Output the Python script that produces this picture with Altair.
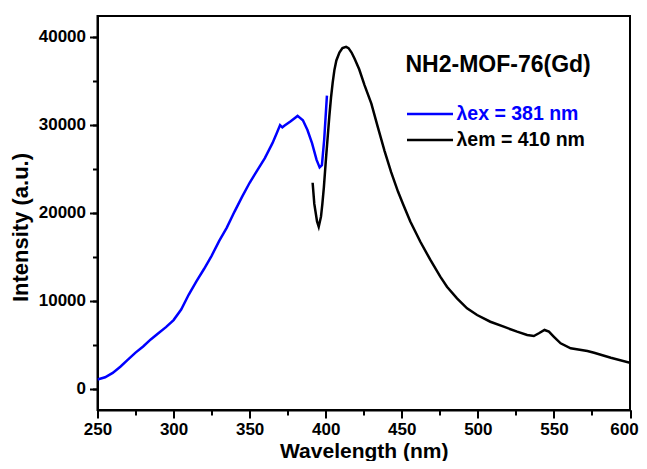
import altair as alt
import pandas as pd

# Excitation spectrum (blue)
ex_wavelength = [250, 255, 260, 265, 270, 275, 280, 285, 290, 295, 300, 305, 310, 315,
                 320, 325, 330, 335, 340, 345, 350, 355, 360, 365, 368, 370, 371.5, 373,
                 377, 381.5, 385, 388, 391, 394, 396, 397.5, 399, 400.8]
ex_intensity = [1050, 1300, 1800, 2500, 3300, 4100, 4800, 5600, 6300, 7000, 7800, 9000, 10700, 12200,
                13600, 15100, 16800, 18300, 20100, 21800, 23400, 24800, 26200, 27900, 29100, 29950, 29700, 29900,
                30400, 31000, 30500, 29400, 27900, 26000, 25150, 25400, 28300, 33300]

# Emission spectrum (black)
em_wavelength = [391.4, 392.5, 394.3, 395.4, 396.9, 397.8, 398.8, 400.2, 401.3, 402.4, 403.5, 404.6,
                 405.7, 407, 409, 411, 413.4, 415, 417, 419, 422, 425.5, 430, 434.3, 438.7, 443,
                 447.5, 451, 455.6, 462.2, 468.8, 475.3, 479.7, 486.3, 492.9, 499.5, 508.2, 517,
                 525.8, 532.4, 536.8, 540.1, 543.8, 546.7, 550, 554.4, 561, 572, 576.4, 587.4, 600]
em_intensity = [23400, 21000, 19000, 18400, 19550, 21000, 22900, 26200, 28600, 31000, 33100, 34800,
                36200, 37300, 38200, 38700, 38850, 38700, 38200, 37500, 36300, 34500, 32400, 29700, 27000, 24600,
                22400, 20900, 19000, 16700, 14630, 12730, 11590, 10270, 9140, 8375, 7610, 7045,
                6480, 6100, 5990, 6300, 6670, 6480, 5900, 5160, 4590, 4280, 4090, 3520, 2950]

series_names = ["λex = 381 nm", "λem = 410 nm"]
series_colors = ["#0000ff", "#000000"]
legend_title = "NH2-MOF-76(Gd)"

x_major = [250, 300, 350, 400, 450, 500, 550, 600]
x_minor = [250, 275, 300, 325, 350, 375, 400, 425, 450, 475, 500, 525, 550, 575, 600]
y_major = [0, 10000, 20000, 30000, 40000]
y_minor = [0, 5000, 10000, 15000, 20000, 25000, 30000, 35000, 40000]

rows = []
for w, v in zip(ex_wavelength, ex_intensity):
    rows.append({"wl": w, "I": v, "s": series_names[0]})
for w, v in zip(em_wavelength, em_intensity):
    rows.append({"wl": w, "I": v, "s": series_names[1]})
df = pd.DataFrame(rows)

FONT = "Liberation Sans"
x_scale = alt.Scale(domain=[250, 600], nice=False, zero=False)
y_scale = alt.Scale(domain=[-2420, 42350], nice=False, zero=False)

minor = alt.Chart(df).mark_line(opacity=0).encode(
    x=alt.X("wl:Q", scale=x_scale,
            axis=alt.Axis(values=x_minor, labels=False, domain=False, grid=False, title="",
                          tickSize=5, tickWidth=2, tickColor="black", orient="bottom")),
    y=alt.Y("I:Q", scale=y_scale,
            axis=alt.Axis(values=y_minor, labels=False, domain=False, grid=False, title="",
                          tickSize=5, tickWidth=2, tickColor="black", orient="left")),
)

lines = alt.Chart(df).mark_line(strokeWidth=2.5, clip=True).encode(
    x=alt.X("wl:Q", scale=x_scale,
            axis=alt.Axis(values=x_major, title="Wavelength (nm)", orient="bottom", grid=False,
                          tickSize=8, tickWidth=2, tickColor="black", domainColor="black", domainWidth=2,
                          labelFont=FONT, labelFontSize=17, labelFontWeight="bold", labelColor="black",
                          labelPadding=3, labelFlush=False,
                          labelOffset=alt.ExprRef(expr="datum.value == 600 ? -6 : 0"),
                          titleFont=FONT, titleFontSize=21, titleFontWeight="bold", titleColor="black",
                          titlePadding=3.2)),
    y=alt.Y("I:Q", scale=y_scale,
            axis=alt.Axis(values=y_major, format="d", title="Intensity (a.u.)", orient="left", grid=False,
                          tickSize=8, tickWidth=2, tickColor="black", domainColor="black", domainWidth=2,
                          labelFont=FONT, labelFontSize=17, labelFontWeight="bold", labelColor="black",
                          labelPadding=4, labelFlush=False,
                          titleFont=FONT, titleFontSize=22, titleFontWeight="bold", titleColor="black",
                          titlePadding=6, titleY=211)),
    color=alt.Color("s:N", scale=alt.Scale(domain=series_names, range=series_colors),
                    legend=alt.Legend(title=legend_title, orient="none", legendX=308, legendY=38,
                                      symbolType="M-1,0L3,0", symbolSize=529, symbolStrokeWidth=2.5,
                                      labelFont=FONT, labelFontSize=19.5, labelFontWeight="bold",
                                      labelColor=alt.ExprRef(expr="datum.label == 'λex = 381 nm' ? '#0000ff' : '#000000'"),
                                      labelOffset=25, labelLimit=300,
                                      titleFont=FONT, titleFontSize=23, titleFontWeight="bold",
                                      titleColor="black", titlePadding=24, titleLimit=300,
                                      padding=0, rowPadding=3)),
)

chart = alt.layer(minor, lines).resolve_axis(x="independent", y="independent").properties(
    width=532.5, height=394,
    autosize=alt.AutoSizeParams(type="none"),
    padding={"left": 89.5, "top": 8, "right": 9, "bottom": 51},
    background="white",
).configure_view(stroke="black", strokeWidth=2)

chart.save("out.html", embed_options={"renderer": "svg", "actions": False})
